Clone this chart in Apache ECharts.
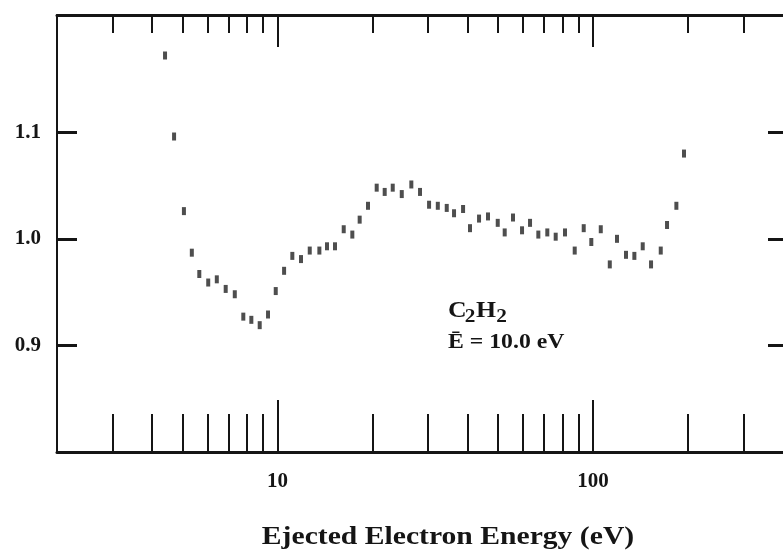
<!DOCTYPE html>
<html>
<head>
<meta charset="utf-8">
<script src="https://cdn.jsdelivr.net/npm/echarts@6/dist/echarts.min.js"></script>
<style>
  html, body { margin: 0; padding: 0; background: #fff; }
  #chart { width: 783px; height: 558px; }
</style>
</head>
<body>
<div id="chart"></div>
<script>
// Ejected electron energy (eV) and measured ratio for C2H2
const energies = [4.40, 4.70, 5.05, 5.35, 5.65, 6.03, 6.42, 6.85, 7.32, 7.79,
  8.26, 8.78, 9.33, 9.87, 10.49, 11.14, 11.87, 12.65, 13.57, 14.35,
  15.21, 16.21, 17.26, 18.21, 19.35, 20.62, 21.86, 23.18, 24.76, 26.55,
  28.29, 30.22, 32.21, 34.38, 36.26, 38.73, 40.74, 43.52, 46.46, 49.88,
  52.48, 55.76, 59.56, 63.14, 67.08, 71.62, 76.14, 81.5, 87.48, 93.42,
  98.74, 105.8, 113.0, 119.1, 127.2, 135.2, 143.7, 152.7, 163.9, 171.6,
  183.7, 194.2];
const ratios = [1.172, 1.096, 1.026, 0.987, 0.967, 0.959, 0.962, 0.953, 0.948, 0.927,
  0.924, 0.919, 0.929, 0.951, 0.970, 0.984, 0.981, 0.989, 0.989, 0.993,
  0.993, 1.009, 1.004, 1.018, 1.031, 1.048, 1.044, 1.048, 1.042, 1.051,
  1.044, 1.032, 1.031, 1.029, 1.024, 1.028, 1.010, 1.019, 1.021, 1.015,
  1.006, 1.020, 1.008, 1.015, 1.004, 1.006, 1.002, 1.006, 0.989, 1.010,
  0.997, 1.009, 0.976, 1.000, 0.985, 0.984, 0.993, 0.976, 0.989, 1.013,
  1.031, 1.080];

// Axis tick positions
const minorTicks = [3, 4, 5, 6, 7, 8, 9, 20, 30, 40, 50, 60, 70, 80, 90, 200, 300];
const majorTicks = [10, 100];
const yTicks = [0.9, 1.0, 1.1];

const SERIF = '"Liberation Serif", "DejaVu Serif", serif';
const INK = '#151515';

const points = energies.map((e, i) => [e, ratios[i]]);

const xBase = { type: 'log', logBase: 10, min: 2, max: 400, splitLine: { show: false } };

function xAxisDef(position, lineShow, ticks, tickLen, labels) {
  return Object.assign({}, xBase, {
    position: position,
    axisLine: { show: lineShow, onZero: false, lineStyle: { color: INK, width: 3 } },
    axisTick: { show: true, inside: true, length: tickLen, customValues: ticks,
      lineStyle: { color: INK, width: 2 } },
    axisLabel: labels ? {
      show: true, customValues: majorTicks, margin: 19,
      fontFamily: SERIF, fontWeight: 'bold', fontSize: 21, color: INK,
      formatter: v => String(Math.round(v))
    } : { show: false },
    minorTick: { show: false }
  });
}

const chart = echarts.init(document.getElementById('chart'), null, { renderer: 'canvas' });
chart.setOption({
  animation: false,
  backgroundColor: '#fff',
  grid: { left: 57, right: 0, top: 15, bottom: 106, containLabel: false },
  xAxis: [
    xAxisDef('bottom', true, minorTicks, 38, true),
    xAxisDef('bottom', false, majorTicks, 52, false),
    xAxisDef('top', true, minorTicks, 18, false),
    xAxisDef('top', false, majorTicks, 32, false)
  ],
  yAxis: [
    {
      type: 'value', position: 'left', min: 0.8, max: 1.21,
      splitLine: { show: false },
      axisLine: { show: true, onZero: false, lineStyle: { color: INK, width: 2 } },
      axisTick: { show: true, inside: true, length: 20, customValues: yTicks,
        lineStyle: { color: INK, width: 3 } },
      axisLabel: { show: true, customValues: yTicks, margin: 16,
        fontFamily: SERIF, fontWeight: 'bold', fontSize: 21, color: INK,
        formatter: v => v.toFixed(1) }
    },
    {
      type: 'value', position: 'right', min: 0.8, max: 1.21,
      splitLine: { show: false },
      axisLine: { show: false },
      axisTick: { show: true, inside: true, length: 15, customValues: yTicks,
        lineStyle: { color: INK, width: 3 } },
      axisLabel: { show: false }
    }
  ],
  series: [{
    type: 'scatter',
    xAxisIndex: 0,
    yAxisIndex: 0,
    data: points,
    symbol: 'rect',
    symbolSize: [4, 8],
    itemStyle: { color: '#222' },
    silent: true
  }],
  graphic: [
    {
      type: 'group', x: 448, y: 300, scaleX: 1.12,
      children: [
        { type: 'text', x: 0, y: 0, style: { text: 'C', font: 'bold 23px ' + SERIF, fill: INK } },
        { type: 'text', x: 15, y: 8, style: { text: '2', font: 'bold 19px ' + SERIF, fill: INK } },
        { type: 'text', x: 25, y: 0, style: { text: 'H', font: 'bold 23px ' + SERIF, fill: INK } },
        { type: 'text', x: 43, y: 8, style: { text: '2', font: 'bold 19px ' + SERIF, fill: INK } }
      ]
    },
    {
      type: 'text', x: 448, y: 332, scaleX: 1.13,
      style: { text: '\u0112 = 10.0 eV', font: 'bold 21px ' + SERIF, fill: INK }
    },
    {
      type: 'text', x: 448, y: 537, scaleX: 1.14,
      style: { text: 'Ejected Electron Energy (eV)', font: 'bold 26px ' + SERIF, fill: INK,
        align: 'center', verticalAlign: 'middle' }
    }
  ]
});
</script>
</body>
</html>
